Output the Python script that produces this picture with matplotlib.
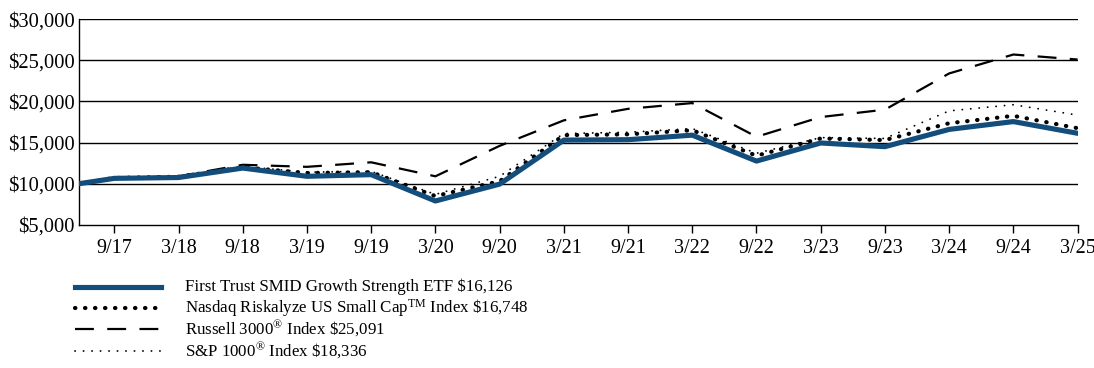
import matplotlib
matplotlib.use("Agg")
import matplotlib.pyplot as plt
from matplotlib.lines import Line2D

plt.rcParams["font.family"] = ["Liberation Serif", "DejaVu Serif"]
plt.rcParams["mathtext.fontset"] = "custom"
plt.rcParams["mathtext.rm"] = "Liberation Serif"
plt.rcParams["mathtext.it"] = "Liberation Serif:italic"
plt.rcParams["mathtext.bf"] = "Liberation Serif:bold"

# Period positions: inception, then semiannual marks 9/17 ... 3/25
periods = [-0.55, 0, 1, 2, 3, 4, 5, 6, 7, 8, 9, 10, 11, 12, 13, 14, 15]
tick_labels = ["9/17", "3/18", "9/18", "3/19", "9/19", "3/20", "9/20", "3/21",
               "9/21", "3/22", "9/22", "3/23", "9/23", "3/24", "9/24", "3/25"]

fund = [10000, 10650, 10750, 11900, 10900, 11100, 7900, 9950, 15300, 15350,
        15900, 12750, 14950, 14500, 16600, 17550, 16126]
nasdaq = [10000, 10700, 10850, 12000, 11300, 11400, 8500, 10300, 15900, 16000,
          16500, 13400, 15500, 15300, 17350, 18250, 16748]
russell = [10000, 10700, 10900, 12300, 12050, 12600, 10900, 14600, 17700, 19100,
           19800, 15700, 18100, 19000, 23400, 25700, 25091]
sp1000 = [10000, 10700, 10900, 12100, 11400, 11500, 8700, 10900, 16100, 16250,
          16700, 13700, 15600, 15500, 18850, 19600, 18336]

labels = [
    r"First Trust SMID Growth Strength ETF \$16,126",
    r"Nasdaq Riskalyze US Small Cap$^{\mathrm{TM}}$ Index \$16,748",
    r"Russell 3000$^{\mathrm{\circledR}}$ Index \$25,091",
    r"S&P 1000$^{\mathrm{\circledR}}$ Index \$18,336",
]

y_ticks = [5000, 10000, 15000, 20000, 25000, 30000]

navy = "#124d7c"
styles = [
    dict(color=navy, lw=3.7, linestyle="-", zorder=6),
    dict(color="black", lw=3.0, linestyle=(0, (0.1, 2.3)),
         dash_capstyle="round", zorder=5),
    dict(color="black", lw=1.6, linestyle=(0, (8.5, 6)), zorder=3),
    dict(color="black", lw=1.3, linestyle=(0, (0.1, 4.6)),
         dash_capstyle="round", zorder=4),
]
series = [fund, nasdaq, russell, sp1000]

fig = plt.figure(figsize=(10.94, 3.68), dpi=100)
ax = fig.add_axes([0.0722, 0.389, 0.9128, 0.559])

for values, st in zip(series, styles):
    ax.plot(periods, values, **st)

ax.set_xlim(-0.55, 15)
ax.set_ylim(5000, 30000)
ax.set_yticks(y_ticks)
ax.set_yticklabels([f"${v:,.0f}" for v in y_ticks])
ax.set_xticks(range(len(tick_labels)))
ax.set_xticklabels(tick_labels)

for v in y_ticks[1:]:
    ax.axhline(v, color="black", lw=1.0, zorder=1)

for side in ("top", "right"):
    ax.spines[side].set_visible(False)
ax.spines["left"].set_linewidth(1.0)
ax.spines["bottom"].set_linewidth(1.0)
ax.tick_params(axis="y", length=0, pad=3, labelsize=14.8)
ax.tick_params(axis="x", direction="out", length=6, width=1.0, pad=4,
               labelsize=14.5)

# Legend rows below the plot
row_y = [0.2201, 0.1630, 0.1060, 0.0462]
for y, label, st in zip(row_y, labels, styles):
    fig.add_artist(Line2D([0.0686, 0.1472], [y, y], transform=fig.transFigure,
                          **st))
    fig.text(0.169, y, label, fontsize=12.2, va="center", ha="left")

fig.savefig("out.png", dpi=100)
